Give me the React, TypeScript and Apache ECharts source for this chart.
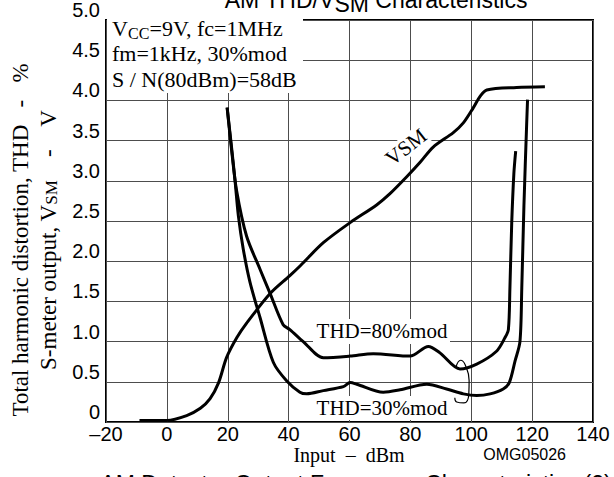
import React, { useEffect, useRef } from 'react';
import * as echarts from 'echarts';

// x: input (dBm), y: value
const vsmData: number[][] = [
  [-9, 0.02], [0, 0.02], [6.5, 0.08], [11, 0.17], [14.2, 0.29], [17, 0.49], [19.6, 0.8],
  [23, 1.05], [26.2, 1.23], [34, 1.6], [40.4, 1.82], [44, 1.95], [51.4, 2.23], [60.2, 2.48],
  [68.9, 2.7], [73.3, 2.84], [78.8, 3.05], [83.2, 3.23], [87.5, 3.42], [94.1, 3.6],
  [97.4, 3.72], [100.7, 3.91], [102.9, 4.05], [105.1, 4.13], [114.9, 4.16], [124.2, 4.17],
];
const thd80Data: number[][] = [
  [19.8, 3.91], [21.3, 3.37], [22.9, 2.88], [26.2, 2.31], [30.6, 1.9], [33.9, 1.6],
  [38.2, 1.21], [40.4, 1.15], [44.8, 1.0], [51.4, 0.8], [60.2, 0.82], [67.8, 0.85],
  [79.9, 0.82], [85.9, 0.94], [89.7, 0.86], [96.3, 0.66], [101.8, 0.72], [108.3, 0.88],
  [111.1, 1.05], [112.2, 1.15], [112.7, 1.66], [113.3, 2.48], [114, 3.09], [114.6, 3.37],
];
const thd30Data: number[][] = [
  [19.8, 3.91], [21.3, 3.4], [22.4, 3.0], [23.5, 2.56], [25.1, 2.15], [27.3, 1.74],
  [30.6, 1.3], [35, 0.74], [39.4, 0.51], [43.7, 0.37], [45.9, 0.35], [51.4, 0.39],
  [58, 0.44], [60.2, 0.49], [62.4, 0.47], [71.1, 0.37], [76.6, 0.4], [85.4, 0.47],
  [91.9, 0.41], [97.4, 0.35], [101.8, 0.33], [106.2, 0.35], [110.5, 0.41], [112.5, 0.49],
  [114.4, 0.76], [116, 1.0], [116.6, 1.66], [117.3, 2.68], [118.2, 3.7], [118.5, 4.01],
];
const bracketData: number[][] = [
  [95.0, 0.686], [96.5, 0.768], [98.0, 0.711], [99.3, 0.515], [99.2, 0.352],
  [97.6, 0.237], [95.2, 0.249], [94.6, 0.303],
];
const conditionLines = ['fm=1kHz, 30%mod', 'S / N(80dBm)=58dB'];

const serif = '"Liberation Serif", "Times New Roman", serif';
const sans = '"Liberation Sans", Arial, sans-serif';

export default function App() {
  const ref = useRef<HTMLDivElement>(null);
  useEffect(() => {
    const chart = echarts.init(ref.current!, null, { renderer: 'svg' });
    const curve = (name: string, data: number[][], width = 3) => ({
      name,
      type: 'line',
      data,
      smooth: 0.3,
      showSymbol: false,
      symbol: 'none',
      lineStyle: { color: '#000', width },
      z: 3,
    });
    const subRich = (size: number) => ({ sub: { fontSize: size, fontFamily: serif, padding: [7, 0, 0, 0] } });
    const condText = (text: string, x: number, yMid: number, size = 22) => ({
      type: 'text', x, y: yMid, z: 10,
      style: { text, fontFamily: serif, fontSize: size, fill: '#000', align: 'left', verticalAlign: 'middle' },
    });
    chart.setOption({
      animation: false,
      backgroundColor: '#fff',
      grid: {
        left: 106, top: 14, width: 487, height: 408,
        show: true, borderColor: '#000', borderWidth: 2, backgroundColor: 'transparent',
      },
      xAxis: {
        type: 'value', min: -20, max: 140, interval: 20,
        axisLine: { show: false }, axisTick: { show: false },
        splitLine: { show: true, lineStyle: { color: '#4d4d4d', width: 1 } },
        axisLabel: {
          fontFamily: sans, fontSize: 20, color: '#000', margin: 2,
          formatter: (v: number) => (v < 0 ? '–' + Math.abs(v) : String(v)),
        },
      },
      yAxis: {
        type: 'value', min: 0, max: 5, interval: 0.5,
        axisLine: { show: false }, axisTick: { show: false },
        splitLine: { show: true, lineStyle: { color: '#4d4d4d', width: 1 } },
        axisLabel: {
          fontFamily: sans, fontSize: 20, color: '#000', margin: 6, verticalAlign: 'bottom',
          formatter: (v: number) => (v === 0 ? '0' : v.toFixed(1)),
        },
      },
      series: [
        curve('VSM', vsmData),
        curve('THD=80%mod', thd80Data),
        curve('THD=30%mod', thd30Data),
        { ...curve('bracket', bracketData, 1.2), smooth: 0.5 },
      ],
      graphic: [
        {
          type: 'text', x: 376, y: 15, z: 10,
          style: {
            text: 'AM THD/V{sub|SM} Characteristics', fontFamily: sans, fontSize: 23,
            fill: '#000', align: 'center', verticalAlign: 'bottom',
            rich: { sub: { fontSize: 23, fontFamily: sans, padding: [8, 0, 0, 0] } },
          },
        },
        { type: 'rect', z: 5, shape: { x: 107, y: 18, width: 196, height: 75 }, style: { fill: '#fff' } },
        condText('V', 112, 28),
        condText('CC', 128, 33, 16),
        condText('=9V, fc=1MHz', 149.5, 28),
        ...conditionLines.map((t, i) => condText(t, 112, 53 + i * 26)),
        { type: 'rect', z: 5, shape: { x: 313, y: 319, width: 137, height: 25 }, style: { fill: '#fff' } },
        {
          type: 'text', x: 382, y: 331, z: 10,
          style: { text: 'THD=80%mod', fontFamily: serif, fontSize: 21, fill: '#000', align: 'center', verticalAlign: 'middle' },
        },
        { type: 'rect', z: 5, shape: { x: 313, y: 396, width: 137, height: 24 }, style: { fill: '#fff' } },
        {
          type: 'text', x: 382, y: 408, z: 10,
          style: { text: 'THD=30%mod', fontFamily: serif, fontSize: 21, fill: '#000', align: 'center', verticalAlign: 'middle' },
        },
        {
          type: 'text', x: 406, y: 147, z: 10, rotation: 0.66,
          style: {
            text: 'VSM', fontFamily: serif, fontSize: 21, fill: '#000', align: 'center', verticalAlign: 'middle',
            backgroundColor: '#fff', padding: [0, 2, 0, 2],
          },
        },
        {
          type: 'text', x: 20, y: 240, z: 10, rotation: Math.PI / 2,
          style: { text: 'Total harmonic distortion, THD   -   %', fontFamily: serif, fontSize: 23, fill: '#000', align: 'center', verticalAlign: 'middle' },
        },
        {
          type: 'text', x: 48, y: 240, z: 10, rotation: Math.PI / 2,
          style: {
            text: 'S-meter output, V{sub|SM}    -    V', fontFamily: serif, fontSize: 23, fill: '#000',
            align: 'center', verticalAlign: 'middle', rich: subRich(17),
          },
        },
        {
          type: 'text', x: 349, y: 455, z: 10,
          style: { text: 'Input  –  dBm', fontFamily: serif, fontSize: 20, fill: '#000', align: 'center', verticalAlign: 'middle' },
        },
        {
          type: 'text', x: 566, y: 454, z: 10,
          style: { text: 'OMG05026', fontFamily: sans, fontSize: 16, fill: '#000', align: 'right', verticalAlign: 'middle' },
        },
        {
          type: 'text', x: 356, y: 472, z: 10,
          style: { text: 'AM Detector Output Frequency Characteristics (2)', fontFamily: sans, fontSize: 23, fill: '#000', align: 'center', verticalAlign: 'top' },
        },
      ],
    });
    return () => chart.dispose();
  }, []);
  return <div ref={ref} style={{ position: 'fixed', left: 0, top: 0, width: 614, height: 477 }} />;
}
